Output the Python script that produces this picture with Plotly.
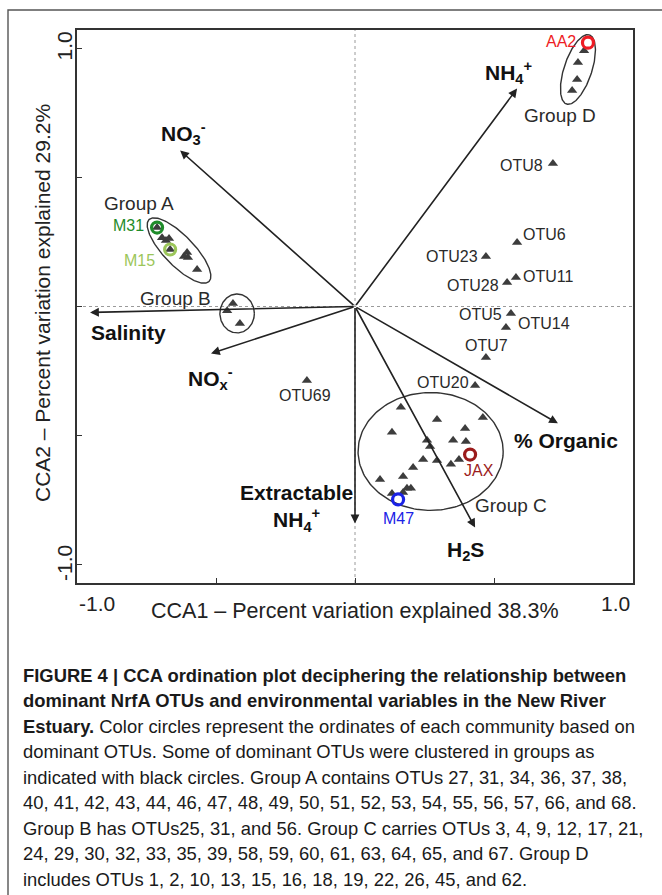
import numpy as np
import plotly.graph_objects as go

# ---------------- data (CCA scores) ----------------
# environmental vectors (arrow tips)
env_names = ["NH<sub>4</sub><sup>+</sup>", "NO<sub>3</sub><sup>-</sup>", "Salinity",
             "NO<sub>x</sub><sup>-</sup>", "Extractable<br>NH<sub>4</sub><sup>+</sup>",
             "H<sub>2</sub>S", "% Organic"]
env_x = [0.583, -0.629, -0.953, -0.518, 0.000, 0.432, 0.730]
env_y = [0.845, 0.605, -0.023, -0.182, -0.841, -0.857, -0.453]

# labelled single OTUs
otu_names = ["OTU8", "OTU6", "OTU23", "OTU28", "OTU11", "OTU5", "OTU14", "OTU7", "OTU20", "OTU69"]
otu_x = [0.712, 0.583, 0.471, 0.547, 0.579, 0.561, 0.543, 0.471, 0.432, -0.173]
otu_y = [0.554, 0.248, 0.194, 0.093, 0.112, -0.027, -0.081, -0.198, -0.306, -0.287]

# grouped OTUs
groupA_x = [-0.712, -0.694, -0.680, -0.669, -0.665, -0.615, -0.604, -0.601, -0.568]
groupA_y = [0.306, 0.267, 0.256, 0.264, 0.221, 0.194, 0.209, 0.190, 0.143]
groupB_x = [-0.439, -0.460, -0.414]
groupB_y = [0.012, -0.016, -0.066]
groupC_x = [0.165, 0.295, 0.460, 0.133, 0.396, 0.259, 0.353, 0.399, 0.270, 0.245,
            0.295, 0.345, 0.374, 0.209, 0.173, 0.090, 0.187, 0.201, 0.133, 0.173]
groupC_y = [-0.391, -0.438, -0.430, -0.488, -0.473, -0.519, -0.519, -0.523, -0.543, -0.593,
            -0.597, -0.612, -0.593, -0.624, -0.659, -0.671, -0.705, -0.705, -0.725, -0.721]
groupD_x = [0.824, 0.802, 0.799, 0.781]
groupD_y = [0.992, 0.946, 0.880, 0.837]

# group outlines
group_names = ["Group A", "Group B", "Group C", "Group D"]
group_cx = [-0.633, -0.424, 0.272, 0.802]
group_cy = [0.217, -0.027, -0.562, 0.919]
group_a = [0.155, 0.062, 0.261, 0.131]
group_b = [0.054, 0.070, 0.212, 0.050]
group_angle = [-46, 0, 0, 71.6]

# communities (colour circles)
sample_names = ["AA2", "M31", "M15", "JAX", "M47"]
sample_x = [0.838, -0.712, -0.665, 0.414, 0.155]
sample_y = [1.023, 0.306, 0.221, -0.574, -0.748]

x_tick_labels = ["-1.0", "1.0"]
y_tick_labels = ["1.0", "-1.0"]
x_title = "CCA1 \u2013 Percent variation explained 38.3%"
y_title = "CCA2 \u2013 Percent variation explained 29.2%"

caption_lines = [
    "<b>FIGURE 4 | CCA ordination plot deciphering the relationship between</b>",
    "<b>dominant NrfA OTUs and environmental variables in the New River</b>",
    "<b>Estuary.</b> Color circles represent the ordinates of each community based on",
    "dominant OTUs. Some of dominant OTUs were clustered in groups as",
    "indicated with black circles. Group A contains OTUs 27, 31, 34, 36, 37, 38,",
    "40, 41, 42, 43, 44, 46, 47, 48, 49, 50, 51, 52, 53, 54, 55, 56, 57, 66, and 68.",
    "Group B has OTUs25, 31, and 56. Group C carries OTUs 3, 4, 9, 12, 17, 21,",
    "24, 29, 30, 32, 33, 35, 39, 58, 59, 60, 61, 63, 64, 65, and 67. Group D",
    "includes OTUs 1, 2, 10, 13, 15, 16, 18, 19, 22, 26, 45, and 62.",
]

# ---------------- styling / layout ----------------
W, H = 662, 895
ML, MR, MT, MB = 77, 29, 30, 312
PW, PH = W - ML - MR, H - MT - MB
XR = [-1.0, 1.0]
YR = [-1.072, 1.072]
SX = PW / (XR[1] - XR[0])
SY = PH / (YR[1] - YR[0])
FONT = "Liberation Sans, Arial, sans-serif"
INK = "#222222"


def px_x(p):
    return (p - ML) / PW


def px_y(p):
    return (H - MB - p) / PH


fig = go.Figure()

# group ellipses
t = np.linspace(0, 2 * np.pi, 200)
for cx, cy, a, b, ang in zip(group_cx, group_cy, group_a, group_b, group_angle):
    u = a * SX * np.cos(t)
    v = b * SX * np.sin(t)
    th = np.deg2rad(ang)
    ur = u * np.cos(th) - v * np.sin(th)
    vr = u * np.sin(th) + v * np.cos(th)
    fig.add_trace(go.Scatter(x=cx + ur / SX, y=cy + vr / SY, mode="lines",
                             line=dict(color="#333333", width=1.4),
                             hoverinfo="skip", showlegend=False))

# triangles
all_x = otu_x + groupA_x + groupB_x + groupC_x + groupD_x
all_y = otu_y + groupA_y + groupB_y + groupC_y + groupD_y
fig.add_trace(go.Scatter(x=all_x, y=all_y, mode="markers",
                         marker=dict(symbol="triangle-up", size=9, color="#3d3d3d"),
                         showlegend=False))

# sample rings
sample_colors = ["#ee1c24", "#1f8c2a", "#9cc65a", "#9b1c1c", "#1a22e6"]
fig.add_trace(go.Scatter(x=sample_x, y=sample_y, mode="markers",
                         marker=dict(symbol="circle-open", size=11,
                                     line=dict(width=3.2, color=sample_colors),
                                     color=sample_colors),
                         showlegend=False))

ann = []
# arrows
for ex, ey in zip(env_x, env_y):
    ann.append(dict(x=ex, y=ey, ax=0, ay=0, xref="x", yref="y", axref="x", ayref="y",
                    text="", showarrow=True, arrowhead=2, arrowsize=1.1, arrowwidth=1.6,
                    arrowcolor=INK, standoff=0))

env_off = [(-9, 16), (3, 17), (38, -20), (-1, -25), (-59, 15), (-10, -23), (8, -17)]
for name, ex, ey, (dx, dy) in zip(env_names, env_x, env_y, env_off):
    ann.append(dict(x=ex, y=ey, xref="x", yref="y", text="<b>" + name + "</b>",
                    showarrow=False, xshift=dx, yshift=dy, align="center",
                    font=dict(family=FONT, size=21, color="#111111")))

# OTU labels
otu_style = [("right", -8, -2), ("left", 4, 8), ("right", -6, 0), ("right", -6, -3),
             ("left", 5, 1), ("right", -7, -1), ("left", 10, 4), ("center", 1, 12),
             ("right", -4, 3), ("center", -2, -15)]
for name, ox, oy, (anc, dx, dy) in zip(otu_names, otu_x, otu_y, otu_style):
    ann.append(dict(x=ox, y=oy, xref="x", yref="y", text=name, showarrow=False,
                    xanchor=anc, xshift=dx, yshift=dy,
                    font=dict(family=FONT, size=16, color="#2a2a2a")))

# group labels
group_off = [(-40, 47), (-62, 15), (80, -54), (-18, -46)]
for name, cx, cy, (dx, dy) in zip(group_names, group_cx, group_cy, group_off):
    ann.append(dict(x=cx, y=cy, xref="x", yref="y", text=name, showarrow=False,
                    xshift=dx, yshift=dy, font=dict(family=FONT, size=19, color="#2a2a2a")))

# sample labels
sample_style = [("right", -10, 1), ("right", -11, 2), ("right", -13, -11),
                ("center", 9, -16), ("center", 0, -19)]
for name, sx_, sy_, col, (anc, dx, dy) in zip(sample_names, sample_x, sample_y,
                                              sample_colors, sample_style):
    ann.append(dict(x=sx_, y=sy_, xref="x", yref="y", text=name, showarrow=False,
                    xanchor=anc, xshift=dx, yshift=dy,
                    font=dict(family=FONT, size=16, color=col)))

# tick labels and axis titles
ann.append(dict(x=0, y=px_y(603), xref="paper", yref="paper", text=x_tick_labels[0],
                showarrow=False, xanchor="left", yanchor="middle",
                font=dict(family=FONT, size=21, color=INK)))
ann.append(dict(x=px_x(632), y=px_y(603), xref="paper", yref="paper", text=x_tick_labels[1],
                showarrow=False, xanchor="right", yanchor="middle",
                font=dict(family=FONT, size=21, color=INK)))
ann.append(dict(x=px_x(64), y=1, xref="paper", yref="paper", text=y_tick_labels[0],
                textangle=-90, showarrow=False, xanchor="center", yanchor="top",
                font=dict(family=FONT, size=21, color=INK)))
ann.append(dict(x=px_x(64), y=0, xref="paper", yref="paper", text=y_tick_labels[1],
                textangle=-90, showarrow=False, xanchor="center", yanchor="bottom",
                font=dict(family=FONT, size=21, color=INK)))
ann.append(dict(x=px_x(355), y=px_y(611), xref="paper", yref="paper", text=x_title,
                showarrow=False, xanchor="center", yanchor="middle",
                font=dict(family=FONT, size=21.5, color=INK)))
ann.append(dict(x=px_x(42), y=px_y(303), xref="paper", yref="paper", text=y_title,
                textangle=-90, showarrow=False, xanchor="center", yanchor="middle",
                font=dict(family=FONT, size=21, color=INK)))

# caption
for i, line in enumerate(caption_lines):
    ann.append(dict(x=px_x(21), y=px_y(675 + 25.5 * i), xref="paper", yref="paper",
                    text=line, showarrow=False, xanchor="left", yanchor="middle",
                    font=dict(family=FONT, size=18.4, color="#1a1a1a")))

shapes = [
    # zero reference lines
    dict(type="line", xref="x", yref="y", x0=0, x1=0, y0=YR[0], y1=YR[1],
         line=dict(color="#9a9a9a", width=1, dash="dot"), layer="below"),
    dict(type="line", xref="x", yref="y", x0=XR[0], x1=XR[1], y0=0, y1=0,
         line=dict(color="#9a9a9a", width=1, dash="dot"), layer="below"),
    # outer figure frame
    dict(type="rect", xref="paper", yref="paper", x0=px_x(8), x1=px_x(700),
         y0=px_y(930), y1=px_y(10), line=dict(color="#555555", width=1.4)),
]

axis_common = dict(showgrid=False, zeroline=False, showline=True, mirror=True,
                   linecolor="#333333", linewidth=1.6, ticks="inside", ticklen=5,
                   tickcolor="#333333", showticklabels=False, dtick=0.5)

fig.update_layout(
    width=W, height=H,
    margin=dict(l=ML, r=MR, t=MT, b=MB),
    paper_bgcolor="white", plot_bgcolor="white",
    xaxis=dict(range=XR, tick0=-1, **axis_common),
    yaxis=dict(range=YR, tick0=-1, **axis_common),
    annotations=ann, shapes=shapes, showlegend=False,
    font=dict(family=FONT, color=INK),
)

fig.write_html("out.html", config={"displayModeBar": False},
               post_script="document.body.style.margin='0';document.body.style.overflow='hidden';")
